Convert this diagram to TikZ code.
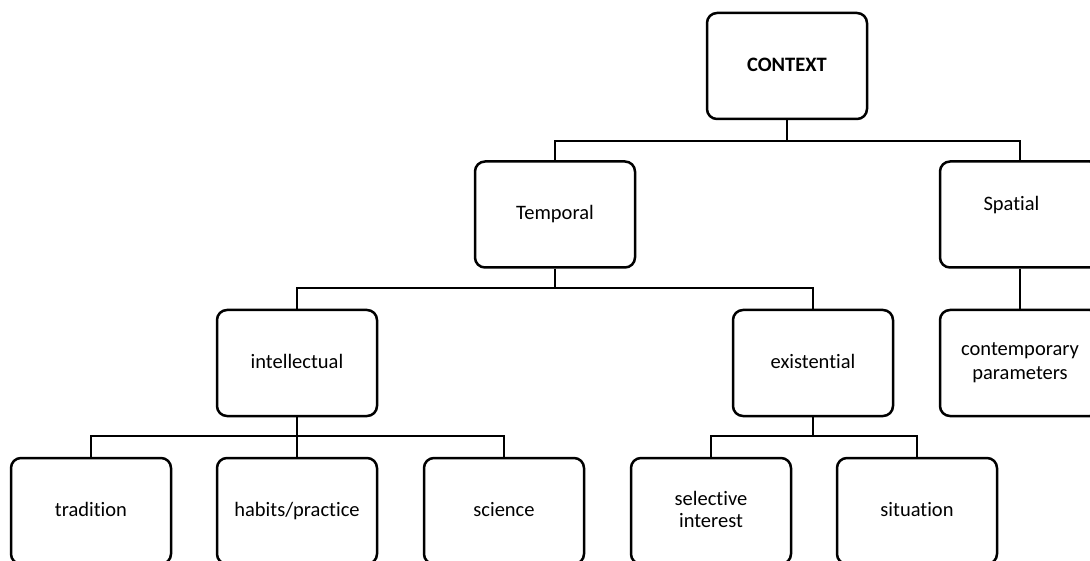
\documentclass[tikz,border=0pt]{standalone}
\usepackage{fontspec}
\setmainfont{Carlito}[Ligatures=NoCommon]
\newcommand{\boxstrut}{\rule[-3pt]{0pt}{17pt}}
\begin{document}
\begin{tikzpicture}[x=1pt,y=-1pt,
  box/.style={draw=black, line width=2.5pt, rounded corners=10pt, rectangle,
    minimum width=160pt, minimum height=106pt, inner sep=0pt, align=center,
    font=\fontsize{20.5}{24}\selectfont, execute at begin node=\boxstrut},
  txt/.style={inner sep=0pt, font=\fontsize{20.5}{24}\selectfont, execute at begin node=\boxstrut},
  link/.style={draw=black, line width=2.5pt}]
\useasboundingbox (0,0) rectangle (1090,561);
\clip (0,0) rectangle (1090,561);

% top level
\node[box, font=\fontsize{20.5}{24}\selectfont\bfseries] (context) at (787,66) {CONTEXT};

% second level
\node[box] (temporal) at (555,214.5) {Temporal};
\node[box] (spatial) at (1020,214.5) {};
\node[txt] (spatiallabel) at (1011.5,205) {Spatial};

% third level
\node[box] (intellectual) at (297,363) {intellectual};
\node[box] (existential) at (813,363) {existential};
\node[box] (contemporary) at (1020,363) {contemporary\\parameters};

% leaves
\node[box] (tradition) at (91,511) {tradition};
\node[box] (habits) at (297,511) {habits/practice};
\node[box] (science) at (504,511) {science};
\node[box, font=\fontsize{20.5}{22.5}\selectfont] (selective) at (711,511) {selective\\interest};
\node[box] (situation) at (917,511) {situation};

% bus junctions
\coordinate (busA) at (787,141);
\coordinate (busB) at (555,288);
\coordinate (busC) at (297,436);
\coordinate (busD) at (813,436);

% connectors
\draw[link] (context.south) -- (busA);
\draw[link] (temporal.north) |- (busA) -| (spatial.north);
\draw[link] (spatial.south) -- (contemporary.north);

\draw[link] (temporal.south) -- (busB);
\draw[link] (intellectual.north) |- (busB) -| (existential.north);

\draw[link] (intellectual.south) -- (habits.north);
\draw[link] (tradition.north) |- (busC) -| (science.north);

\draw[link] (existential.south) -- (busD);
\draw[link] (selective.north) |- (busD) -| (situation.north);
\end{tikzpicture}
\end{document}
